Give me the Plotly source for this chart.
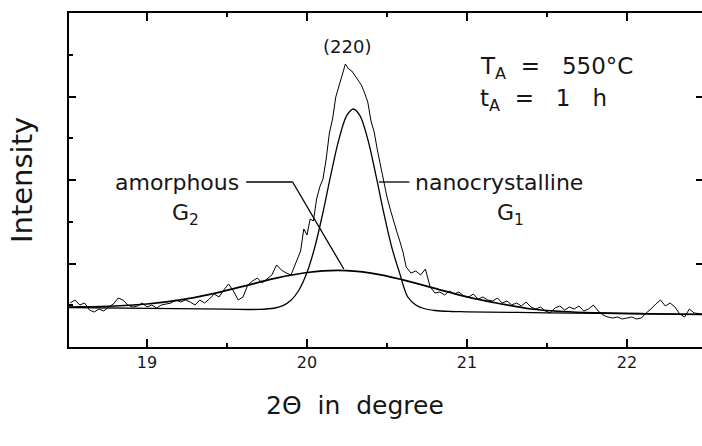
import plotly.graph_objects as go

# ---- measured diffractogram (2theta in degree, intensity in arb. units) ----
theta_meas = [18.52, 18.55, 18.58, 18.61, 18.64, 18.67, 18.70, 18.73, 18.76, 18.79,
              18.82, 18.85, 18.88, 18.91, 18.94, 18.97, 19.00, 19.03, 19.06, 19.09,
              19.12, 19.15, 19.18, 19.21, 19.24, 19.27, 19.30, 19.33, 19.36, 19.39,
              19.42, 19.45, 19.48, 19.51, 19.54, 19.57, 19.60, 19.63, 19.66, 19.69,
              19.72, 19.75, 19.78, 19.81, 19.84, 19.87, 19.90, 19.93, 19.96,
              19.98, 20.00, 20.02, 20.04, 20.06, 20.08, 20.10, 20.12, 20.14, 20.16,
              20.18, 20.20, 20.22, 20.24, 20.26, 20.28, 20.30, 20.32, 20.34, 20.36,
              20.38, 20.40, 20.42, 20.44, 20.46, 20.48, 20.50, 20.52, 20.54, 20.56,
              20.58, 20.60, 20.62,
              20.65, 20.68, 20.71, 20.74, 20.77, 20.80, 20.83, 20.86, 20.89, 20.92,
              20.95, 20.98, 21.01, 21.04, 21.07, 21.10, 21.13, 21.16, 21.19, 21.22,
              21.25, 21.28, 21.31, 21.34, 21.37, 21.40, 21.43, 21.46, 21.49, 21.52,
              21.55, 21.58, 21.61, 21.64, 21.67, 21.70, 21.73, 21.76, 21.79, 21.82,
              21.85, 21.88, 21.91, 21.94, 21.97, 22.00, 22.03, 22.06, 22.09, 22.12,
              22.15, 22.18, 22.21, 22.24, 22.27, 22.30, 22.33, 22.36, 22.39, 22.42,
              22.45, 22.47]
int_meas = [44, 47, 42, 44, 37, 35, 38, 36, 40, 43,
            49, 47, 42, 40, 41, 44, 40, 42, 39, 42,
            43, 44, 47, 45, 47, 45, 42, 47, 44, 48,
            53, 50, 57, 63, 56, 47, 50, 62, 66, 69,
            64, 68, 72, 82, 77, 74, 72, 84, 96,
            118, 112, 128, 126, 148, 160, 168, 188, 214, 228,
            250, 262, 272, 283, 278, 276, 271, 266, 262, 254,
            245, 226, 215, 197, 180, 165, 150, 138, 126, 116,
            106, 95, 80,
            74, 76, 72, 78, 60, 54, 55, 52, 56, 53,
            55, 51, 50, 53, 48, 50, 47, 46, 49, 44,
            46, 42, 44, 41, 45, 40, 38, 40, 36, 34,
            39, 41, 37, 40, 38, 41, 36, 38, 42, 36,
            32, 30, 29, 30, 28, 29, 30, 28, 29, 34,
            38, 43, 47, 41, 44, 40, 33, 30, 38, 34,
            33, 33]

# ---- fitted component G1 (nanocrystalline) ----
theta_g1 = [18.51, 19.0, 19.5, 19.7, 19.8, 19.85, 19.9, 19.95, 20.0, 20.05,
            20.1, 20.15, 20.2, 20.25, 20.29, 20.33, 20.38, 20.43, 20.48, 20.53,
            20.58, 20.63, 20.68, 20.73, 20.8, 20.9, 21.0, 21.5, 22.0, 22.47]
int_g1 = [39.5, 38.7, 37.9, 37.6, 39.0, 41.4, 46.7, 57.0, 74.4, 100.5,
          134.7, 172.9, 207.9, 231.8, 238.0, 231.6, 207.6, 172.4, 134.0, 99.7,
          73.4, 50.0, 42.0, 38.5, 36.5, 35.5, 35.2, 34.2, 33.5, 32.7]

# ---- fitted component G2 (amorphous) ----
theta_g2 = [18.51, 18.6, 18.8, 19.0, 19.2, 19.4, 19.6, 19.8, 20.0, 20.2,
            20.4, 20.6, 20.8, 21.0, 21.2, 21.4, 21.6, 21.8, 22.0, 22.2, 22.47]
int_g2 = [40.0, 40.1, 41.0, 43.0, 46.9, 52.9, 60.6, 68.6, 74.5, 76.6,
          73.9, 67.2, 58.6, 50.1, 43.5, 38.0, 35.5, 34.2, 33.5, 33.0, 32.5]

x_major = [19, 20, 21, 22]
y_major = [83.5, 167, 250.5]
y_minor = [41.75, 125.25, 208.75, 292.25]

FONT = "DejaVu Sans"
INK = "#161616"

fig = go.Figure()
fig.add_trace(go.Scatter(x=theta_meas, y=int_meas, mode="lines",
                         line=dict(color="black", width=1)))
fig.add_trace(go.Scatter(x=theta_g1, y=int_g1, mode="lines",
                         line=dict(color="black", width=1.3, shape="spline")))
fig.add_trace(go.Scatter(x=theta_g2, y=int_g2, mode="lines",
                         line=dict(color="black", width=1.7, shape="spline")))
fig.add_trace(go.Scatter(x=[None], y=[None], yaxis="y2", showlegend=False))

# pointer lines
fig.add_shape(type="line", x0=19.62, y0=165, x1=19.91, y1=165, line=dict(color="black", width=1.3))
fig.add_shape(type="line", x0=19.91, y0=165, x1=20.23, y1=78, line=dict(color="black", width=1.3))
fig.add_shape(type="line", x0=20.45, y0=165, x1=20.64, y1=165, line=dict(color="black", width=1.3))

ann_font = dict(family=FONT, size=22, color=INK)
fig.add_annotation(x=19.585, y=165, text="amorphous", showarrow=False, font=ann_font, xanchor="right")
fig.add_annotation(x=19.24, y=133, text="G<sub>2</sub>", showarrow=False, font=ann_font)
fig.add_annotation(x=20.66, y=165, text="nanocrystalline", showarrow=False, font=ann_font, xanchor="left")
fig.add_annotation(x=21.27, y=133, text="G<sub>1</sub>", showarrow=False, font=ann_font)
fig.add_annotation(x=20.25, y=301, text="(220)", showarrow=False,
                   font=dict(family=FONT, size=18, color=INK))
fig.add_annotation(x=21.07, y=279, text="T<sub>A</sub>  =   550°C", showarrow=False,
                   font=dict(family=FONT, size=23, color=INK), xanchor="left")
fig.add_annotation(x=21.07, y=247, text="t<sub>A</sub>  =   1   h", showarrow=False,
                   font=dict(family=FONT, size=23, color=INK), xanchor="left")

# axis titles
fig.add_annotation(xref="paper", yref="paper", x=0.452, y=-0.1737, text="2Θ  in  degree",
                   xanchor="center", yanchor="middle",
                   showarrow=False, font=dict(family=FONT, size=25, color=INK))
fig.add_annotation(xref="paper", yref="paper", x=-0.0742, y=0.5, text="Intensity", textangle=-90,
                   xanchor="center", yanchor="middle",
                   showarrow=False, font=dict(family=FONT, size=29, color=INK))

fig.update_layout(
    width=702, height=446,
    margin=dict(l=69, r=0, t=13, b=99),
    plot_bgcolor="white", paper_bgcolor="white",
    showlegend=False,
    xaxis=dict(range=[18.5125, 22.469], showline=True, linecolor="black", linewidth=2,
               mirror="ticks", ticks="inside", ticklen=8, tickwidth=1.5, tickcolor="black",
               tickvals=x_major, ticktext=[str(v) for v in x_major],
               minor=dict(ticks="inside", ticklen=4, tickwidth=1.5, tickcolor="black", dtick=0.5, tick0=18.5),
               showgrid=False, zeroline=False, automargin=False,
               tickfont=dict(family=FONT, size=16, color=INK)),
    yaxis=dict(range=[0, 334], showline=True, linecolor="black", linewidth=2, mirror=False,
               ticks="inside", tickvals=y_major, ticklen=7, tickwidth=1.5, tickcolor="black",
               minor=dict(ticks="inside", tickvals=y_minor, ticklen=4, tickwidth=1.5, tickcolor="black"),
               showticklabels=False, showgrid=False, zeroline=False, automargin=False),
    yaxis2=dict(range=[0, 334], overlaying="y", side="right", showline=False,
                ticks="inside", tickvals=y_major, ticklen=6, tickwidth=1.5, tickcolor="black",
                showticklabels=False, showgrid=False, zeroline=False),
)

fig.write_html("out.html")
